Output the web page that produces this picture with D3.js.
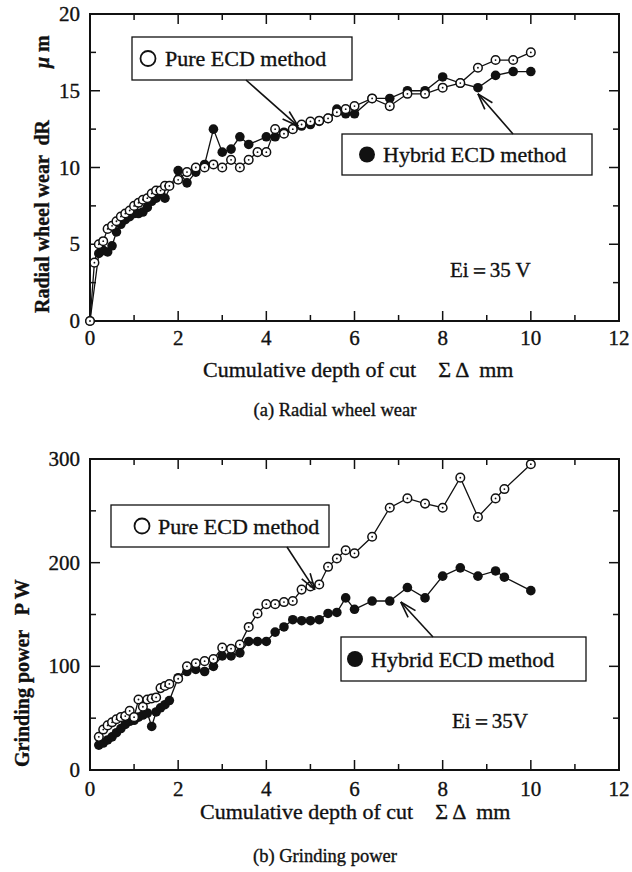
<!DOCTYPE html>
<html><head><meta charset="utf-8">
<script src="https://cdn.jsdelivr.net/npm/d3@7/dist/d3.min.js"></script>
<style>
html,body{margin:0;padding:0;background:#fff;}
svg text{font-family:"Liberation Serif","DejaVu Serif",serif;fill:#111;stroke:#111;stroke-width:0.35px;}
</style></head>
<body>
<svg id="chart" width="632" height="872"></svg>
<script>
// ---------- (a) Radial wheel wear ----------
const pureXa = [0,0.1,0.2,0.3,0.4,0.5,0.6,0.7,0.8,0.9,1.0,1.1,1.2,1.3,1.4,1.5,1.6,1.7,1.8,2.0,2.2,2.4,2.6,2.8,3.0,3.2,3.4,3.6,3.8,4.0,4.2,4.4,4.6,4.8,5.0,5.2,5.4,5.6,5.8,6.0,6.4,6.8,7.2,7.6,8.0,8.4,8.8,9.2,9.6,10.0];
const pureYa = [0,3.8,5.0,5.2,6.0,6.2,6.5,6.8,7.0,7.2,7.5,7.7,7.9,8.0,8.3,8.5,8.5,8.8,8.8,9.2,9.7,10.0,10.0,10.2,10.0,10.5,10.0,10.5,11.0,11.0,12.5,12.2,12.5,12.8,13.0,13.05,13.2,13.6,13.8,14.0,14.5,14.0,14.8,14.8,15.2,15.5,16.5,17.0,17.0,17.5];
const hybXa = [0,0.2,0.3,0.4,0.5,0.6,0.7,0.8,0.9,1.0,1.1,1.2,1.3,1.4,1.5,1.6,1.7,2.0,2.2,2.4,2.6,2.8,3.0,3.2,3.4,3.6,4.0,4.2,4.4,4.6,4.8,5.0,5.2,5.4,5.6,5.8,6.0,6.4,6.8,7.2,7.6,8.0,8.4,8.8,9.2,9.6,10.0];
const hybYa = [0,4.4,4.6,4.5,4.9,5.8,6.3,6.6,6.8,7.0,7.0,7.1,7.4,7.8,8.0,8.3,8.0,9.8,9.0,9.7,10.2,12.5,11.0,11.2,12.0,11.5,12.0,12.0,12.3,12.5,12.7,12.8,13.0,13.2,13.8,13.5,13.5,14.5,14.5,15.0,15.0,15.9,15.5,15.2,16.0,16.25,16.25];

// ---------- (b) Grinding power ----------
const pureXb = [0.2,0.3,0.4,0.5,0.6,0.7,0.8,0.9,1.0,1.1,1.2,1.3,1.4,1.5,1.6,1.7,1.8,2.0,2.2,2.4,2.6,2.8,3.0,3.2,3.4,3.6,3.8,4.0,4.2,4.4,4.6,4.8,5.0,5.2,5.4,5.6,5.8,6.0,6.4,6.8,7.2,7.6,8.0,8.4,8.8,9.2,9.4,10.0];
const pureYb = [32,39,43,46,49,51,52,57,51,68,61,68,69,70,79,81,83,88,100,103,105,107,118,117,121,138,151,160,160,162,163,174,177,179,196,204,212,209,225,253,262,257,253,282,244,262,271,295];
const hybXb = [0.2,0.3,0.4,0.5,0.6,0.7,0.8,0.9,1.0,1.1,1.2,1.3,1.4,1.5,1.6,1.7,1.8,2.0,2.2,2.4,2.6,2.8,3.0,3.2,3.4,3.6,3.8,4.0,4.2,4.4,4.6,4.8,5.0,5.2,5.4,5.6,5.8,6.0,6.4,6.8,7.2,7.6,8.0,8.4,8.8,9.2,9.4,10.0];
const hybYb = [24,26,29,32,36,40,44,47,48,51,53,55,42,56,60,63,67,89,95,97,95,100,110,110,113,124,124,124,133,138,145,144,144,145,151,152,166,155,163,163,176,166,187,195,187,192,186,173];

const xTicks = [0,2,4,6,8,10,12];
const yTicksA = [0,5,10,15,20];
const yTicksB = [0,100,200,300];

const svg = d3.select("#chart");

function drawPanel(cfg){
  const g = svg.append("g");
  const x = d3.scaleLinear().domain([0,12]).range([cfg.left, cfg.right]);
  const y = d3.scaleLinear().domain([0,cfg.ymax]).range([cfg.bottom, cfg.top]);
  const majorX = xTicks, minorX = d3.range(1,12,2);
  const majorY = cfg.yTicks, minorY = cfg.yTicks.slice(0,-1).map(v=>v+cfg.yStep/2);
  const tk = g.append("g").attr("stroke","#111").attr("stroke-width",1.5);
  majorX.concat(minorX).forEach(v=>{
    const L = majorX.includes(v) ? 10 : 6;
    tk.append("line").attr("x1",x(v)).attr("x2",x(v)).attr("y1",cfg.bottom).attr("y2",cfg.bottom-L);
    tk.append("line").attr("x1",x(v)).attr("x2",x(v)).attr("y1",cfg.top).attr("y2",cfg.top+L);
  });
  majorY.concat(minorY).forEach(v=>{
    const L = majorY.includes(v) ? 10 : 6;
    tk.append("line").attr("y1",y(v)).attr("y2",y(v)).attr("x1",cfg.left).attr("x2",cfg.left+L);
    tk.append("line").attr("y1",y(v)).attr("y2",y(v)).attr("x1",cfg.right).attr("x2",cfg.right-L);
  });
  g.append("rect").attr("x",cfg.left).attr("y",cfg.top).attr("width",cfg.right-cfg.left)
    .attr("height",cfg.bottom-cfg.top).attr("fill","none").attr("stroke","#111").attr("stroke-width",2);
  // tick labels
  g.selectAll(".xl").data(xTicks).enter().append("text")
    .attr("x",d=>x(d)).attr("y",cfg.bottom+cfg.xlOff).attr("text-anchor","middle")
    .attr("font-size",21).text(d=>d);
  g.selectAll(".yl").data(majorY).enter().append("text")
    .attr("x",cfg.left-10).attr("y",d=>y(d)+7).attr("text-anchor","end")
    .attr("font-size",21).text(d=>d);
  // axis titles
  g.append("text").attr("x",cfg.xTitleX).attr("y",cfg.xTitleY).attr("font-size",22)
    .attr("xml:space","preserve").text("Cumulative depth of cut    Σ Δ  mm");
  const yt = g.append("text").attr("transform",`translate(${cfg.yTitleX},${cfg.yTitleY}) rotate(-90)`)
    .attr("font-size",20).attr("font-weight","bold").attr("xml:space","preserve");
  yt.append("tspan").text(cfg.yTitle);
  if(cfg.yUnit){ yt.append("tspan").attr("x",cfg.yUnitPos).attr("font-style","italic").text("μ");
                 yt.append("tspan").text(" m"); }
  g.append("text").attr("x",cfg.capX).attr("y",cfg.capY).attr("text-anchor","middle")
    .attr("font-size",18.5).attr("stroke-width",0.2).text(cfg.caption);
  // data lines
  const line = d3.line().x(d=>x(d[0])).y(d=>y(d[1]));
  const hyb = cfg.hx.map((v,i)=>[v,cfg.hy[i]]);
  const pure = cfg.px.map((v,i)=>[v,cfg.py[i]]);
  g.append("path").attr("d",line(hyb)).attr("fill","none").attr("stroke","#111").attr("stroke-width",1.3);
  g.append("path").attr("d",line(pure)).attr("fill","none").attr("stroke","#111").attr("stroke-width",1.3);
  g.selectAll(".hp").data(hyb).enter().append("circle")
    .attr("cx",d=>x(d[0])).attr("cy",d=>y(d[1])).attr("r",4.8).attr("fill","#111");
  g.selectAll(".pp").data(pure).enter().append("circle")
    .attr("cx",d=>x(d[0])).attr("cy",d=>y(d[1])).attr("r",4.3).attr("fill","#fff")
    .attr("stroke","#111").attr("stroke-width",1.5);
  g.selectAll(".pd").data(pure).enter().append("circle")
    .attr("cx",d=>x(d[0])).attr("cy",d=>y(d[1])).attr("r",0.9).attr("fill","#111");
  // legends with arrows
  cfg.legends.forEach(lg=>{
    g.append("rect").attr("x",lg.bx).attr("y",lg.by).attr("width",lg.bw).attr("height",lg.bh)
      .attr("fill","#fff").attr("stroke","#111").attr("stroke-width",1.3);
    g.append("circle").attr("cx",lg.bx+lg.cOff).attr("cy",lg.by+lg.bh/2).attr("r",lg.filled?8:7.5)
      .attr("fill",lg.filled?"#111":"#fff").attr("stroke","#111").attr("stroke-width",lg.filled?0:1.8);
    g.append("text").attr("x",lg.bx+lg.tOff).attr("y",lg.by+lg.bh/2+7.5).attr("font-size",22)
      .attr("stroke-width",0.5).text(lg.label);
    const x1=lg.ax1, y1=lg.ay1, x2=x(lg.tip[0]), y2=y(lg.tip[1]);
    g.append("line").attr("x1",x1).attr("y1",y1).attr("x2",x2).attr("y2",y2)
      .attr("stroke","#111").attr("stroke-width",1.6);
    const ang = Math.atan2(y2-y1,x2-x1), L=17, a=0.3;
    [ang+Math.PI-a, ang+Math.PI+a].forEach(t=>{
      g.append("line").attr("x1",x2).attr("y1",y2).attr("x2",x2+L*Math.cos(t)).attr("y2",y2+L*Math.sin(t))
        .attr("stroke","#111").attr("stroke-width",1.6);
    });
  });
  g.append("text").attr("x",cfg.eiX).attr("y",cfg.eiY).attr("font-size",21)
    .attr("xml:space","preserve").text(cfg.ei);
}

drawPanel({
  left:90, right:619, top:14, bottom:321, ymax:20, yTicks:yTicksA, yStep:5,
  px:pureXa, py:pureYa, hx:hybXa, hy:hybYa,
  xlOff:24, xTitleX:203, xTitleY:377, yTitleX:49, yTitleY:313,
  yTitle:"Radial wheel wear  dR", yUnit:true, yUnitPos:245,
  caption:"(a) Radial wheel wear", capX:335, capY:416,
  ei:"Ei＝35 V", eiX:450, eiY:277,
  legends:[
    {bx:132, by:37, bw:220, bh:43, cOff:16, tOff:33, filled:false, label:"Pure ECD method",
     ax1:246, ay1:80, tip:[4.72,12.7]},
    {bx:342, by:134, bw:250, bh:41, cOff:25, tOff:41, filled:true, label:"Hybrid ECD method",
     ax1:513, ay1:134, tip:[8.8,14.8]}
  ]
});

drawPanel({
  left:90, right:619, top:459, bottom:770, ymax:300, yTicks:yTicksB, yStep:100,
  px:pureXb, py:pureYb, hx:hybXb, hy:hybYb,
  xlOff:26, xTitleX:200, xTitleY:819, yTitleX:29, yTitleY:767,
  yTitle:"Grinding power   P W", yUnit:false,
  caption:"(b) Grinding power", capX:325, capY:862,
  ei:"Ei＝35V", eiX:452, eiY:728,
  legends:[
    {bx:111, by:505, bw:218, bh:42, cOff:31, tOff:47, filled:false, label:"Pure ECD method",
     ax1:287, ay1:547, tip:[5.1,174]},
    {bx:341, by:637, bw:245, bh:44, cOff:14, tOff:30, filled:true, label:"Hybrid ECD method",
     ax1:433, ay1:637, tip:[7.05,162]}
  ]
});
</script>
</body></html>
